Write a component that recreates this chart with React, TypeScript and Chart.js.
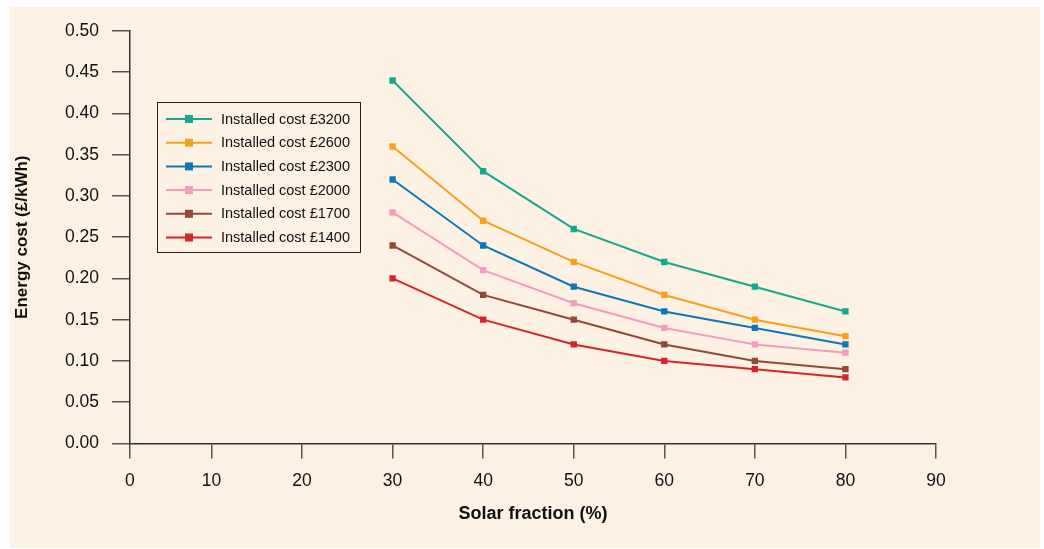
import React, { useEffect, useRef } from "react";
import { Chart, registerables } from "chart.js";

Chart.register(...registerables);

const xValues = [30, 40, 50, 60, 70, 80];
const xTickValues = [10, 20, 30, 40, 50, 60, 70, 80, 90];
const seriesLabels = [
  "Installed cost £3200",
  "Installed cost £2600",
  "Installed cost £2300",
  "Installed cost £2000",
  "Installed cost £1700",
  "Installed cost £1400",
];
const cost3200 = [0.44, 0.33, 0.26, 0.22, 0.19, 0.16];
const cost2600 = [0.36, 0.27, 0.22, 0.18, 0.15, 0.13];
const cost2300 = [0.32, 0.24, 0.19, 0.16, 0.14, 0.12];
const cost2000 = [0.28, 0.21, 0.17, 0.14, 0.12, 0.11];
const cost1700 = [0.24, 0.18, 0.15, 0.12, 0.1, 0.09];
const cost1400 = [0.2, 0.15, 0.12, 0.1, 0.09, 0.08];
const seriesValues = [cost3200, cost2600, cost2300, cost2000, cost1700, cost1400];
const seriesColors = ["#16a88e", "#f7a01c", "#0d78b8", "#f49bc0", "#934a35", "#d4252c"];

const xTitle = "Solar fraction (%)";
const yTitle = "Energy cost (£/kWh)";

// The original's x axis origin sits slightly compressed: the "0" tick is at the axis start
const X_AXIS_START = 1;

const FONT = "'Liberation Sans', Arial, sans-serif";

const boxLegend = {
  id: "boxLegend",
  afterDraw(chart: any) {
    const ctx = chart.ctx;
    const left = 147;
    const top = 95;
    const width = 203;
    const height = 150;
    ctx.save();
    ctx.strokeStyle = "#222";
    ctx.lineWidth = 1;
    ctx.strokeRect(left + 0.5, top + 0.5, width, height);
    chart.data.datasets.forEach((ds: any, i: number) => {
      const cy = top + 17 + i * 23.7;
      ctx.strokeStyle = ds.borderColor;
      ctx.lineWidth = 2;
      ctx.beginPath();
      ctx.moveTo(left + 9, cy);
      ctx.lineTo(left + 55, cy);
      ctx.stroke();
      ctx.fillStyle = ds.backgroundColor;
      ctx.fillRect(left + 32 - 4, cy - 4, 8, 8);
      ctx.fillStyle = "#111";
      ctx.font = `14.5px ${FONT}`;
      ctx.textBaseline = "middle";
      ctx.textAlign = "left";
      ctx.fillText(ds.label, left + 64, cy + 0.5);
    });
    ctx.restore();
  },
};

export default function App() {
  const ref = useRef<HTMLCanvasElement | null>(null);
  useEffect(() => {
    if (!ref.current) return;
    const chart = new Chart(ref.current, {
      type: "line",
      data: {
        datasets: seriesLabels.map((label, i) => ({
          label,
          data: xValues.map((x, j) => ({ x, y: seriesValues[i][j] })),
          borderColor: seriesColors[i],
          backgroundColor: seriesColors[i],
          borderWidth: 2,
          pointStyle: "rect",
          pointRadius: 4.5,
          pointBorderWidth: 0,
          tension: 0,
        })),
      },
      options: {
        animation: false,
        responsive: false,
        maintainAspectRatio: false,
        layout: { padding: { left: 0, right: 104, top: 24, bottom: 6 } },
        plugins: { legend: { display: false }, tooltip: { enabled: false } },
        scales: {
          x: {
            type: "linear",
            min: X_AXIS_START,
            max: 90,
            afterBuildTicks: (axis: any) => {
              axis.ticks = [X_AXIS_START, ...xTickValues].map((value) => ({ value }));
            },
            ticks: {
              color: "#111",
              font: { family: FONT, size: 17.5 },
              padding: 12,
              maxRotation: 0,
              autoSkip: false,
              callback: (v: any) => (v === X_AXIS_START ? "0" : String(v)),
            },
            grid: {
              drawOnChartArea: false,
              drawTicks: true,
              tickLength: 15,
              color: "#555",
              lineWidth: 1.5,
            },
            border: { color: "#333", width: 1.5 },
            title: {
              display: true,
              text: xTitle,
              color: "#111",
              font: { family: FONT, size: 18, weight: "bold" },
              padding: { top: 0, bottom: 17 },
            },
          },
          y: {
            min: 0,
            max: 0.5,
            ticks: {
              stepSize: 0.05,
              color: "#111",
              font: { family: FONT, size: 17.5 },
              padding: 13,
              callback: (v: any) => Number(v).toFixed(2),
            },
            grid: {
              drawOnChartArea: false,
              drawTicks: true,
              tickLength: 18,
              color: "#555",
              lineWidth: 1.5,
            },
            border: { color: "#333", width: 1.5 },
            title: {
              display: true,
              text: yTitle,
              color: "#111",
              font: { family: FONT, size: 17, weight: "bold" },
              padding: { top: 2, bottom: 19.5 },
            },
          },
        },
      },
      plugins: [boxLegend],
    });
    return () => chart.destroy();
  }, []);

  return (
    <div style={{ position: "fixed", left: 0, top: 0, width: 1044, height: 549, background: "#fff" }}>
      <div style={{ position: "absolute", left: 10, top: 7, width: 1030, height: 541, background: "#fdf1e3" }}>
        <canvas ref={ref} width={1030} height={541} style={{ display: "block", width: 1030, height: 541 }} />
      </div>
    </div>
  );
}
